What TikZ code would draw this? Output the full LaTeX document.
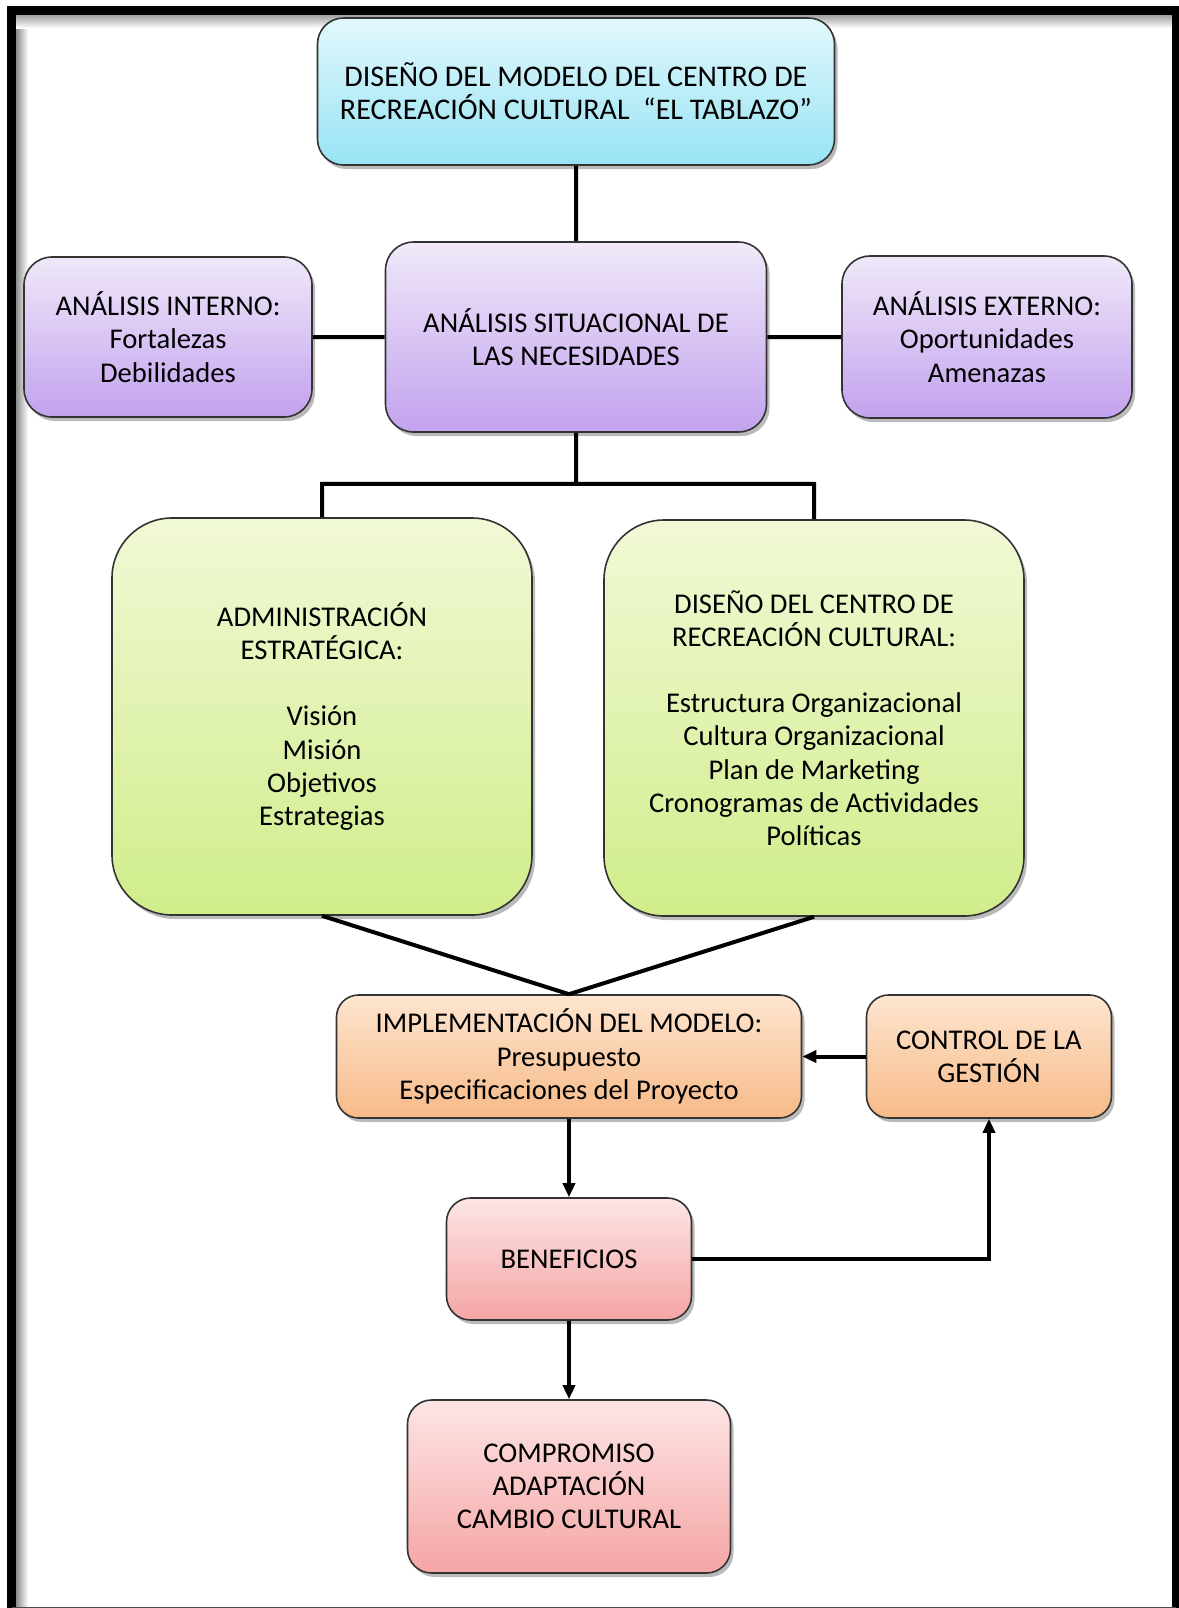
\documentclass[tikz,border=0pt]{standalone}
\usepackage{fontspec}
\setmainfont{Carlito}
\usepackage{tikz}
\usetikzlibrary{arrows.meta,positioning,shadows}
\definecolor{cyantop}{HTML}{E2F8FC}
\definecolor{cyanbot}{HTML}{97E3F4}
\definecolor{violtop}{HTML}{F0E8F9}
\definecolor{violbot}{HTML}{C2A2EE}
\definecolor{greentop}{HTML}{F1F9D6}
\definecolor{greenbot}{HTML}{D0ED8A}
\definecolor{orgtop}{HTML}{FDE5CF}
\definecolor{orgbot}{HTML}{F7BA88}
\definecolor{pinktop}{HTML}{FDE5E5}
\definecolor{pinkbot}{HTML}{F5A5A5}
\tikzset{>/.tip={Triangle[length=7pt,width=6pt]}}
\tikzset{box/.style={draw=black!80,line width=0.8pt,align=center,inner sep=0pt,
    drop shadow={shadow xshift=1.5pt,shadow yshift=-2pt,fill=black!60,opacity=.45}}}
\tikzset{cyanbox/.style={box,rounded corners=13pt,top color=cyantop,bottom color=cyanbot}}
\tikzset{violbox/.style={box,rounded corners=14pt,top color=violtop,bottom color=violbot}}
\tikzset{greenbox/.style={box,rounded corners=30pt,top color=greentop,bottom color=greenbot}}
\tikzset{orgbox/.style={box,rounded corners=11pt,top color=orgtop,bottom color=orgbot}}
\tikzset{pinkbox/.style={box,rounded corners=12pt,top color=pinktop,bottom color=pinkbot}}
\def\bxfont{\fontsize{14.3}{16.6}\selectfont}

\begin{document}
\begin{tikzpicture}[x=1pt,y=-1pt,on grid,font=\bxfont,line width=2pt]
        % frame with its inner shade
        \shade[left color=black!45,right color=white] (8,7) rectangle (14,804);
        \shade[top color=black!40,bottom color=white] (8,7) rectangle (586,14);
        \draw[line width=4.5pt] (5.75,804) -- (5.75,5.25) -- (588,5.25) -- (588,804);
        \draw[line width=0.6pt,black!70] (5.75,803.7) -- (588,803.7);
        \node(top)[cyanbox,minimum width=258.5pt,minimum height=73.5pt,font=\fontsize{15}{16.6}\selectfont]
          at (288,45.75) {DISEÑO DEL MODELO DEL CENTRO DE\\RECREACIÓN CULTURAL\ \ “EL TABLAZO”};
        \node(sit)[violbox,minimum width=190.5pt,minimum height=95pt,below=122.75pt of top]
          {ANÁLISIS SITUACIONAL DE\\LAS NECESIDADES};
        \node(int)[violbox,minimum width=144pt,minimum height=80pt,left=204pt of sit]
          {ANÁLISIS INTERNO:\\Fortalezas\\Debilidades};
        \node(ext)[violbox,minimum width=145pt,minimum height=81pt,right=205.5pt of sit]
          {ANÁLISIS EXTERNO:\\Oportunidades\\Amenazas};
        \node(adm)[greenbox,minimum width=210pt,minimum height=198.5pt,below left=189.75pt and 127pt of sit]
          {ADMINISTRACIÓN\\ESTRATÉGICA:\\[16.6pt]Visión\\Misión\\Objetivos\\Estrategias};
        \node(dis)[greenbox,minimum width=210pt,minimum height=198pt,below right=190.5pt and 119pt of sit]
          {DISEÑO DEL CENTRO DE\\RECREACIÓN CULTURAL:\\[16.6pt]Estructura Organizacional\\Cultura Organizacional\\Plan de Marketing\\Cronogramas de Actividades\\Políticas};
        \node(impl)[orgbox,minimum width=232.5pt,minimum height=61.5pt,below left=359.75pt and 3.5pt of sit]
          {IMPLEMENTACIÓN DEL MODELO:\\Presupuesto\\Especificaciones del Proyecto};
        \node(ctrl)[orgbox,minimum width=122.5pt,minimum height=61.5pt,right=210pt of impl]
          {CONTROL DE LA\\GESTIÓN};
        \node(ben)[pinkbox,minimum width=122.5pt,minimum height=61pt,below=101.25pt of impl]
          {BENEFICIOS};
        \node(comp)[pinkbox,minimum width=161.5pt,minimum height=86.5pt,below=113.75pt of ben]
          {COMPROMISO\\ADAPTACIÓN\\CAMBIO CULTURAL};
        \coordinate[below=25.5pt of sit.south](fork);
        \draw (top) -- (sit)
        (int) -- (sit)
        (sit) -- (ext)
        (sit) -- (fork) -| (adm)
        (fork) -| (dis)
        (adm.south) -- (impl.north)
        (dis.south) -- (impl.north);
        \draw[->] (ctrl) -- (impl);
        \draw[->] (impl) -- (ben);
        \draw[->] (ben) -| (ctrl);
        \draw[->] (ben) -- (comp);
        \pgfresetboundingbox
        \useasboundingbox (0,0) rectangle (589.5,804);
      \end{tikzpicture}
\end{document}
